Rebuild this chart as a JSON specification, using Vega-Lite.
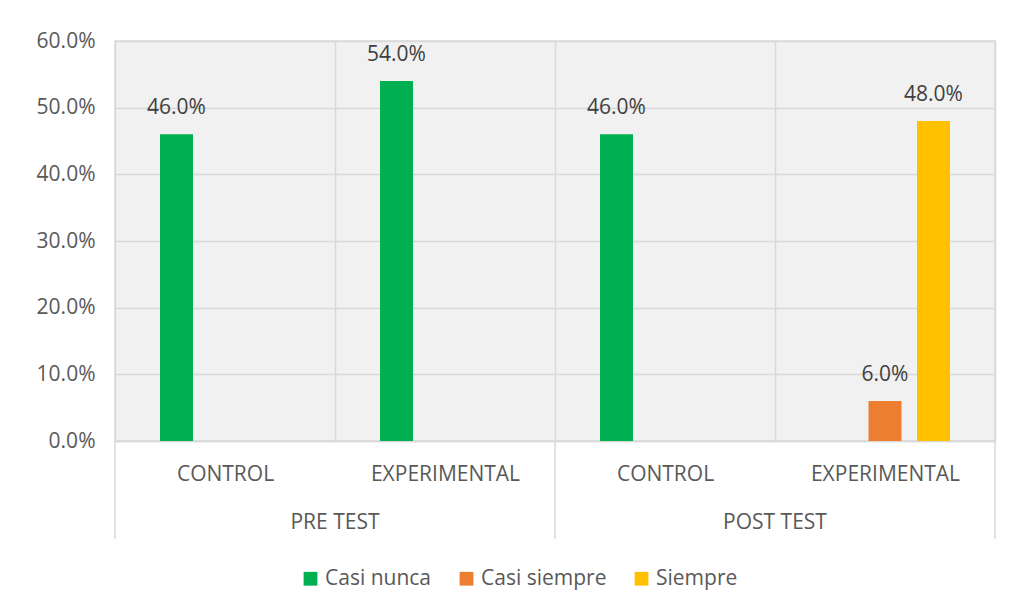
{
  "$schema": "https://vega.github.io/schema/vega-lite/v6.json",
  "width": 880,
  "height": 400,
  "autosize": "none",
  "padding": {"left": 115, "top": 41, "right": 16, "bottom": 172},
  "background": "white",
  "config": {
    "font": "Open Sans",
    "view": {"fill": "#f1f1f1", "stroke": "#d9d9d9", "strokeWidth": 1.5}
  },
  "datasets": {
    "bars": [
      {"cat": "PRE TEST / CONTROL", "series": "Casi nunca", "value": 0.46},
      {"cat": "PRE TEST / EXPERIMENTAL", "series": "Casi nunca", "value": 0.54},
      {"cat": "POST TEST / CONTROL", "series": "Casi nunca", "value": 0.46},
      {"cat": "POST TEST / EXPERIMENTAL", "series": "Casi siempre", "value": 0.06},
      {"cat": "POST TEST / EXPERIMENTAL", "series": "Siempre", "value": 0.48}
    ],
    "phases": [
      {"cat": "PRE TEST / EXPERIMENTAL", "phase": "PRE TEST"},
      {"cat": "POST TEST / EXPERIMENTAL", "phase": "POST TEST"}
    ],
    "sepLeft": [
      {"cat": "PRE TEST / CONTROL"},
      {"cat": "POST TEST / CONTROL"}
    ],
    "sepRight": [
      {"cat": "POST TEST / EXPERIMENTAL"}
    ]
  },
  "layer": [
    {
      "data": {"name": "bars"},
      "mark": {"type": "bar"},
      "encoding": {
        "x": {
          "field": "cat", "type": "nominal", "title": null,
          "scale": {"domain": ["PRE TEST / CONTROL", "PRE TEST / EXPERIMENTAL", "POST TEST / CONTROL", "POST TEST / EXPERIMENTAL"], "paddingInner": 0, "paddingOuter": 0},
          "axis": {
            "labelExpr": "split(datum.label, ' / ')[1]",
            "labelAngle": 0,
            "labelFontSize": 21,
            "labelColor": "#595959",
            "labelBaseline": "top",
            "labelPadding": 22,
            "ticks": false,
            "tickBand": "extent",
            "grid": true,
            "gridColor": "#d9d9d9",
            "gridWidth": 1.5,
            "domainColor": "#d9d9d9",
            "domainWidth": 1.5
          }
        },
        "xOffset": {
          "field": "series", "type": "nominal",
          "scale": {"domain": ["Casi nunca", "Casi siempre", "Siempre"], "paddingInner": 0.32, "paddingOuter": 0.928}
        },
        "y": {
          "field": "value", "type": "quantitative", "title": null,
          "scale": {"domain": [0, 0.6], "nice": false},
          "axis": {
            "values": [0, 0.1, 0.2, 0.3, 0.4, 0.5, 0.6],
            "format": ".1%",
            "labelFontSize": 21,
            "labelColor": "#595959",
            "labelPadding": 20,
            "ticks": false,
            "domain": false,
            "gridColor": "#d9d9d9",
            "gridWidth": 1.5
          }
        },
        "color": {
          "field": "series", "type": "nominal",
          "scale": {"domain": ["Casi nunca", "Casi siempre", "Siempre"], "range": ["#00b050", "#ed7d31", "#ffc000"]},
          "legend": {
            "title": null,
            "orient": "none",
            "direction": "horizontal",
            "legendX": 185,
            "legendY": 527,
            "symbolType": "square",
            "symbolSize": 190,
            "symbolStrokeWidth": 0,
            "labelFontSize": 21,
            "labelColor": "#595959",
            "labelOffset": 4,
            "columnPadding": 24
          }
        }
      }
    },
    {
      "data": {"name": "bars"},
      "mark": {"type": "text", "fontSize": 21, "fill": "#404040", "baseline": "alphabetic", "dy": -20},
      "encoding": {
        "x": {"field": "cat", "type": "nominal", "title": null},
        "xOffset": {"field": "series", "type": "nominal"},
        "y": {"field": "value", "type": "quantitative", "title": null},
        "text": {"field": "value", "type": "quantitative", "format": ".1%"}
      }
    },
    {
      "data": {"name": "phases"},
      "mark": {"type": "text", "fontSize": 21, "fill": "#595959", "baseline": "middle", "dy": 82},
      "encoding": {
        "x": {"field": "cat", "type": "nominal", "title": null, "bandPosition": 0},
        "y": {"datum": 0, "type": "quantitative", "title": null},
        "text": {"field": "phase"}
      }
    },
    {
      "data": {"name": "sepLeft"},
      "mark": {"type": "rule", "color": "#d9d9d9", "strokeWidth": 1.5},
      "encoding": {
        "x": {"field": "cat", "type": "nominal", "title": null, "bandPosition": 0},
        "y": {"datum": 0, "type": "quantitative", "title": null},
        "y2": {"datum": -0.147}
      }
    },
    {
      "data": {"name": "sepRight"},
      "mark": {"type": "rule", "color": "#d9d9d9", "strokeWidth": 1.5},
      "encoding": {
        "x": {"field": "cat", "type": "nominal", "title": null, "bandPosition": 1},
        "y": {"datum": 0, "type": "quantitative", "title": null},
        "y2": {"datum": -0.147}
      }
    }
  ]
}
